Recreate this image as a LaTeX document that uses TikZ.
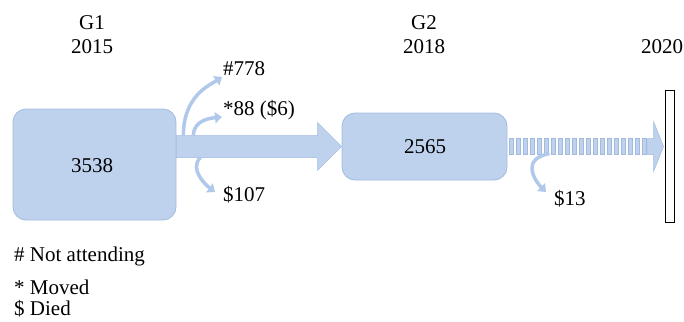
\documentclass[tikz,border=0pt]{standalone}
\usepackage{fontspec}
\setmainfont{Liberation Serif}
\usetikzlibrary{arrows.meta,calc}
\definecolor{boxfill}{RGB}{190,210,238}
\definecolor{boxline}{RGB}{162,186,222}
\definecolor{curvecol}{RGB}{176,200,233}
\begin{document}
\begin{tikzpicture}[x=1pt,y=-1pt,font=\fontsize{21}{25}\selectfont,
  stage/.style={draw=boxline,fill=boxfill,rounded corners=13pt,line width=0.8pt},
  flowpart/.style={draw=boxline,fill=boxfill,line width=0.5pt},
  lbl/.style={inner sep=0pt,anchor=west},
  head/.style={inner sep=0pt},
  outflow/.style={curvecol,line width=3.5pt,-{Triangle[width=11pt,length=7pt]}}]
\useasboundingbox (0,0) rectangle (684,321);

% column headings
\node[head] (h1a) at (92,23) {G1};
\node[head] (h1b) at (92,47) {2015};
\node[head] (h2a) at (424,23) {G2};
\node[head] (h2b) at (424,47) {2018};
\node[head] (h3b) at (662,47) {2020};

% cohort boxes
\node[stage,minimum width=163pt,minimum height=111pt] (g1) at (94.5,164.5) {};
\node (c1) at (92,166) {3538};
\node[stage,minimum width=165pt,minimum height=67pt] (g2) at (424.5,146.5) {};
\node (c2) at (425,147) {2565};

% end-of-follow-up bar
\node[draw=black,fill=white,line width=0.9pt,minimum width=9pt,minimum height=132pt,inner sep=0pt] (stop) at (669.5,156) {};

% solid flow arrow G1 -> G2
\coordinate (a0) at (g1.east |- g2.west);
\coordinate (a1) at (g2.west);
\draw[flowpart] ($(a0)+(0,-11)$) -- ($(a1)+(-24,-11)$) -- ($(a1)+(-24,-24)$)
  -- (a1) -- ($(a1)+(-24,24)$) -- ($(a1)+(-24,11)$) -- ($(a0)+(0,11)$) -- cycle;

% striped flow arrow G2 -> end
\foreach \i in {0,...,19}
  \draw[flowpart,line width=0.4pt] ($(g2.east)+(2+7*\i,-8)$) rectangle +(4,16);
\coordinate (b1) at (stop.west |- g2.east);
\draw[flowpart] ($(b1)+(-17,-8)$) -- ($(b1)+(-11,-8)$) -- ($(b1)+(-11,-25)$)
  -- ($(b1)+(-1,0)$) -- ($(b1)+(-11,25)$) -- ($(b1)+(-11,8)$) -- ($(b1)+(-17,8)$) -- cycle;

% outflow labels
\node[lbl] (n778) at (223,69) {\#778};
\node[lbl] (n88) at (223,110) {*88 (\$6)};
\node[lbl] (n107) at (223,195) {\$107};
\node[lbl] (n13) at (554,199) {\$13};

% curved outflow arrows
\draw[outflow] ($(a0)+(7,-11)$) .. controls +(0,-40) and +(-12,8) .. ($(n778.west)+(-1,8)$);
\draw[outflow] ($(a0)+(17,-11)$) .. controls +(0,-16) and +(-10,1) .. ($(n88.west)+(-1,7)$);
\draw[outflow] ($(a0)+(24,11)$) .. controls +(-12,12) and +(-8,-6) .. ($(n107.west)+(-8,-3)$);
\draw[outflow] ($(g2.east)+(42,7)$) .. controls +(-30,6) and +(-10,-10) .. ($(n13.west)+(-8,-7)$);

% legend
\node[lbl] (k1) at (14,256) {\# Not attending};
\node[lbl] (k2) at (14,287) {* Moved};
\node[lbl] (k3) at (14,309) {\$ Died};
\end{tikzpicture}
\end{document}
